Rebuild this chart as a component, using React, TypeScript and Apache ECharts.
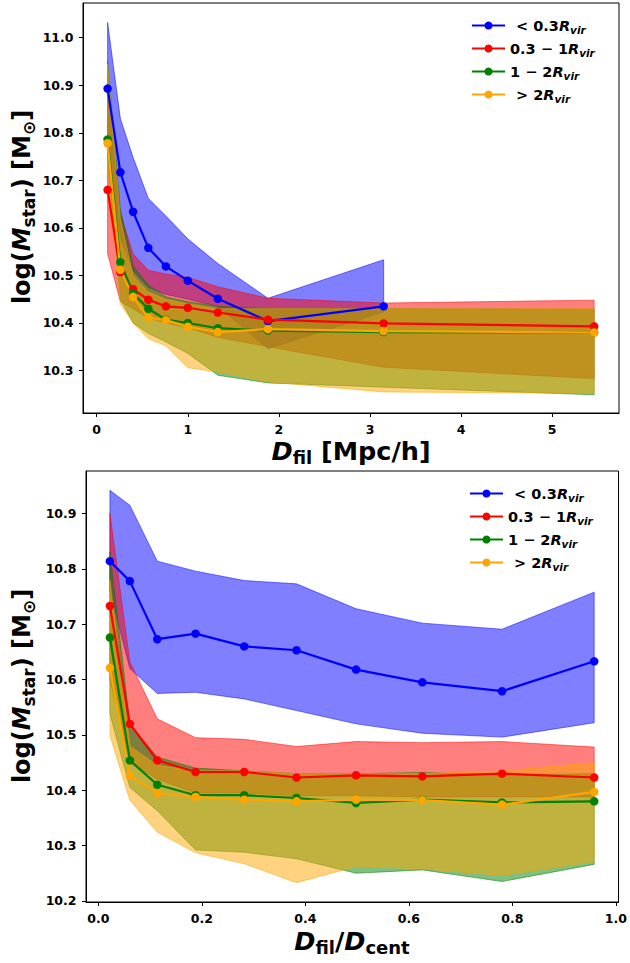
import React, { useEffect, useRef } from 'react';
import * as echarts from 'echarts';

// ---------- Top panel: D_fil [Mpc/h] ----------
const xTop = [0.12, 0.26, 0.40, 0.567, 0.76, 1.0, 1.33, 1.88, 3.15, 5.46];
const topBlueMean = [10.893, 10.717, 10.634, 10.558, 10.519, 10.489, 10.451, 10.404, 10.435];
const topBlueHi = [11.032, 10.830, 10.748, 10.662, 10.625, 10.577, 10.525, 10.452, 10.533];
const topBlueLo = [10.76, 10.58, 10.51, 10.475, 10.46, 10.45, 10.435, 10.346, 10.423];
const topRedMean = [10.680, 10.507, 10.471, 10.449, 10.435, 10.432, 10.422, 10.407, 10.399, 10.393];
const topRedHi = [10.88, 10.63, 10.545, 10.511, 10.503, 10.496, 10.476, 10.452, 10.442, 10.448];
const topRedLo = [10.546, 10.445, 10.43, 10.41, 10.40, 10.39, 10.37, 10.35, 10.307, 10.283];
const topGreenMean = [10.786, 10.528, 10.462, 10.430, 10.407, 10.400, 10.389, 10.384, 10.381, 10.380];
const topGreenHi = [10.95, 10.64, 10.52, 10.48, 10.455, 10.445, 10.435, 10.43, 10.43, 10.429];
const topGreenLo = [10.745, 10.45, 10.40, 10.378, 10.36, 10.336, 10.29, 10.274, 10.265, 10.249];
const topOrangeMean = [10.778, 10.512, 10.455, 10.411, 10.406, 10.392, 10.381, 10.387, 10.383, 10.380];
const topOrangeHi = [10.945, 10.62, 10.50, 10.465, 10.45, 10.44, 10.43, 10.43, 10.43, 10.43];
const topOrangeLo = [10.735, 10.44, 10.40, 10.367, 10.352, 10.306, 10.297, 10.276, 10.255, 10.252];
const topXTicks = [0, 1, 2, 3, 4, 5];
const topYTicks = [10.3, 10.4, 10.5, 10.6, 10.7, 10.8, 10.9, 11.0];

// ---------- Bottom panel: D_fil / D_cent ----------
const xBot = [0.0225, 0.061, 0.114, 0.188, 0.282, 0.383, 0.498, 0.626, 0.780, 0.958];
const botBlueMean = [10.814, 10.778, 10.673, 10.683, 10.660, 10.653, 10.618, 10.595, 10.579, 10.633];
const botBlueHi = [10.942, 10.915, 10.814, 10.796, 10.779, 10.773, 10.728, 10.702, 10.691, 10.758];
const botBlueLo = [10.76, 10.62, 10.575, 10.577, 10.565, 10.544, 10.520, 10.503, 10.496, 10.522];
const botRedMean = [10.733, 10.520, 10.454, 10.433, 10.433, 10.423, 10.427, 10.425, 10.430, 10.423];
const botRedHi = [10.90, 10.632, 10.529, 10.495, 10.492, 10.479, 10.488, 10.486, 10.488, 10.478];
const botRedLo = [10.60, 10.45, 10.42, 10.395, 10.395, 10.39, 10.39, 10.388, 10.388, 10.388];
const botGreenMean = [10.676, 10.454, 10.410, 10.391, 10.391, 10.386, 10.377, 10.383, 10.378, 10.380];
const botGreenHi = [10.83, 10.52, 10.46, 10.44, 10.435, 10.43, 10.43, 10.432, 10.428, 10.43];
const botGreenLo = [10.538, 10.405, 10.363, 10.292, 10.288, 10.276, 10.25, 10.256, 10.235, 10.266];
const botOrangeMean = [10.621, 10.426, 10.395, 10.388, 10.383, 10.380, 10.383, 10.382, 10.374, 10.397];
const botOrangeHi = [10.78, 10.48, 10.445, 10.435, 10.435, 10.43, 10.43, 10.43, 10.435, 10.45];
const botOrangeLo = [10.499, 10.382, 10.324, 10.287, 10.267, 10.233, 10.262, 10.258, 10.246, 10.271];
const botXTicks = [0, 0.2, 0.4, 0.6, 0.8, 1.0];
const botYTicks = [10.2, 10.3, 10.4, 10.5, 10.6, 10.7, 10.8, 10.9];

const NAMES = ['< 0.3Rvir', '0.3 \u2212 1Rvir', '1 \u2212 2Rvir', '> 2Rvir'];
const LEGEND_RICH: Record<string, string> = {
  '< 0.3Rvir': '{g| }{n|< 0.3}{r|R}{s|vir}',
  '0.3 \u2212 1Rvir': '{n|0.3 \u2212 1}{r|R}{s|vir}',
  '1 \u2212 2Rvir': '{n|1 \u2212 2}{r|R}{s|vir}',
  '> 2Rvir': '{g| }{n|> 2}{r|R}{s|vir}',
};
const LINE_COLORS = ['#0000ff', '#ff0000', '#008000', '#ffa500'];
const FILL_COLORS = ['rgba(0,0,255,0.5)', 'rgba(255,0,0,0.5)', 'rgba(0,128,0,0.5)', 'rgba(255,165,0,0.5)'];

const FONT = 'DejaVu Sans';

function band(axis: number, xs: number[], lo: number[], hi: number[], k: number) {
  const n = lo.length;
  return {
    type: 'custom',
    xAxisIndex: axis,
    yAxisIndex: axis,
    z: 1,
    silent: true,
    data: lo.map((v, i) => [xs[i], v, hi[i]]),
    encode: { x: 0, y: [1, 2] },
    renderItem: (params: any, api: any) => {
      if (params.dataIndex !== 0) return null;
      const pts: number[][] = [];
      for (let i = 0; i < n; i++) pts.push(api.coord([xs[i], hi[i]]));
      for (let i = n - 1; i >= 0; i--) pts.push(api.coord([xs[i], lo[i]]));
      return {
        type: 'polygon',
        shape: { points: pts },
        style: { fill: FILL_COLORS[k], stroke: FILL_COLORS[k], lineWidth: 1 },
      };
    },
  };
}

function line(axis: number, xs: number[], ys: number[], k: number) {
  return {
    type: 'line',
    name: NAMES[k],
    xAxisIndex: axis,
    yAxisIndex: axis,
    z: 3,
    data: ys.map((v, i) => [xs[i], v]),
    symbol: 'circle',
    symbolSize: 8.5,
    showSymbol: true,
    color: LINE_COLORS[k],
    itemStyle: { color: LINE_COLORS[k] },
    lineStyle: { color: LINE_COLORS[k], width: 2.2 },
  };
}

function axisCommon(ticks: number[], fmt: (v: number) => string) {
  return {
    axisLine: { show: true, onZero: false, lineStyle: { color: '#000', width: 1 } },
    axisTick: { show: true, inside: false, length: 4, customValues: ticks, lineStyle: { color: '#000', width: 1 } },
    axisLabel: {
      customValues: ticks,
      formatter: (v: number) => fmt(v),
      fontFamily: FONT,
      fontWeight: 'bold',
      fontSize: 12.5,
      color: '#000',
      margin: 9.5,
    },
    splitLine: { show: false },
  };
}

function legend(top: number, left: number) {
  return {
    data: NAMES,
    orient: 'vertical',
    left,
    top,
    itemWidth: 33,
    itemHeight: 10,
    itemGap: 4,
    padding: 0,
    formatter: (name: string) => LEGEND_RICH[name] || name,
    textStyle: {
      fontFamily: FONT,
      fontWeight: 'bold',
      fontSize: 14.5,
      color: '#000',
      rich: {
        g: { width: 6, fontSize: 14.5, lineHeight: 18 },
        n: { fontFamily: FONT, fontWeight: 'bold', fontSize: 14.5, lineHeight: 18, color: '#000' },
        r: { fontFamily: FONT, fontWeight: 'bold', fontStyle: 'italic', fontSize: 14.5, lineHeight: 18, color: '#000' },
        s: { fontFamily: FONT, fontWeight: 'bold', fontStyle: 'italic', fontSize: 10.5, lineHeight: 10, padding: [8, 0, 0, 0], color: '#000' },
      },
    },
  };
}

function titleRich(size: number) {
  const sub = Math.round(size * 0.7);
  return {
    a: { fontFamily: FONT, fontWeight: 'bold', fontSize: size, lineHeight: size + 6, fill: '#000' },
    i: { fontFamily: FONT, fontWeight: 'bold', fontStyle: 'italic', fontSize: size, lineHeight: size + 6, fill: '#000' },
    s: { fontFamily: FONT, fontWeight: 'bold', fontSize: sub, lineHeight: sub, padding: [size + 6 - sub, 0, 0, 0], fill: '#000' },
  };
}

function titleText(x: number, y: number, text: string, size: number, rotation = 0) {
  return {
    type: 'text',
    x,
    y,
    rotation,
    z: 10,
    style: {
      text,
      rich: titleRich(size),
      fontFamily: FONT,
      fontWeight: 'bold',
      fontSize: size,
      fill: '#000',
      align: 'center',
      verticalAlign: 'middle',
    },
  };
}

export default function App() {
  const ref = useRef<HTMLDivElement>(null);
  useEffect(() => {
    if (!ref.current) return;
    const chart = echarts.init(ref.current, undefined, { renderer: 'svg' });
    const fmt1 = (v: number) => v.toFixed(1);
    const fmt0 = (v: number) => String(Math.round(v));
    const option: any = {
      animation: false,
      backgroundColor: '#fff',
      grid: [
        { left: 83, top: 3, width: 536, height: 410, show: true, borderColor: '#000', borderWidth: 1, backgroundColor: 'transparent' },
        { left: 86, top: 471, width: 534, height: 431, show: true, borderColor: '#000', borderWidth: 1, backgroundColor: 'transparent' },
      ],
      xAxis: [
        { type: 'value', gridIndex: 0, min: -0.15, max: 5.733, ...axisCommon(topXTicks, fmt0) },
        { type: 'value', gridIndex: 1, min: -0.0237, max: 1.005, ...axisCommon(botXTicks, fmt1) },
      ],
      yAxis: [
        { type: 'value', gridIndex: 0, min: 10.2107, max: 11.073, ...axisCommon(topYTicks, fmt1) },
        { type: 'value', gridIndex: 1, min: 10.198, max: 10.977, ...axisCommon(botYTicks, fmt1) },
      ],
      legend: [legend(16, 471), legend(484, 469)],
      graphic: [
        titleText(22, 207, '{a|log(}{i|M}{s|star}{a|) [M}{s|\u2299}{a|]}', 24, Math.PI / 2),
        titleText(22, 686, '{a|log(}{i|M}{s|star}{a|) [M}{s|\u2299}{a|]}', 24, Math.PI / 2),
        titleText(351, 451, '{i|D}{s|fil}{a| [Mpc/h]}', 25.5),
        titleText(352, 941, '{i|D}{s|fil}{a|/}{i|D}{s|cent}', 25.5),
      ],
      series: [
        band(0, xTop, topBlueLo, topBlueHi, 0),
        band(0, xTop, topRedLo, topRedHi, 1),
        band(0, xTop, topGreenLo, topGreenHi, 2),
        band(0, xTop, topOrangeLo, topOrangeHi, 3),
        line(0, xTop, topBlueMean, 0),
        line(0, xTop, topRedMean, 1),
        line(0, xTop, topGreenMean, 2),
        line(0, xTop, topOrangeMean, 3),
        band(1, xBot, botBlueLo, botBlueHi, 0),
        band(1, xBot, botRedLo, botRedHi, 1),
        band(1, xBot, botGreenLo, botGreenHi, 2),
        band(1, xBot, botOrangeLo, botOrangeHi, 3),
        line(1, xBot, botBlueMean, 0),
        line(1, xBot, botRedMean, 1),
        line(1, xBot, botGreenMean, 2),
        line(1, xBot, botOrangeMean, 3),
      ],
    };
    chart.setOption(option);
    return () => chart.dispose();
  }, []);
  return <div ref={ref} style={{ position: 'fixed', left: 0, top: 0, width: 630, height: 963 }} />;
}
